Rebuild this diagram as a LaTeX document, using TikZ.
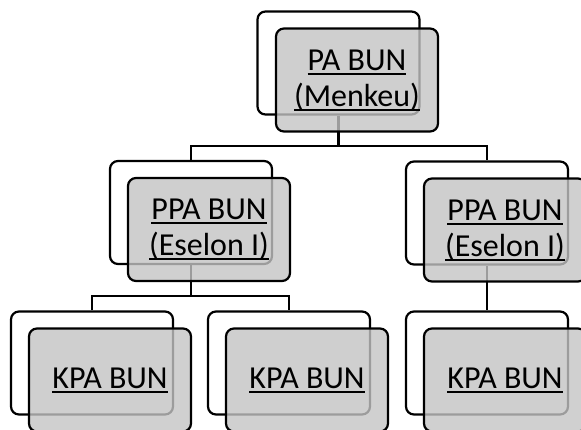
\documentclass[tikz,border=0pt]{standalone}
\usepackage{fontspec}
\setmainfont{Carlito}
\newcommand\ulx[1]{\setbox0\hbox{#1}\rlap{\rule[-4.5bp]{\wd0}{2bp}}\box0}
\begin{document}
\begin{tikzpicture}[x=1bp,y=-1bp,
  backbox/.style={draw=black, line width=2.2bp, rounded corners=8bp, fill=white,
    minimum width=162bp, minimum height=103bp, inner sep=0pt},
  frontbox/.style={draw=black, line width=2.2bp, rounded corners=8bp,
    fill={rgb,255:red,196;green,196;blue,196}, fill opacity=0.8, text opacity=1,
    minimum width=162bp, minimum height=103bp, inner sep=0pt, align=center,
    font=\fontsize{32bp}{36bp}\selectfont},
  conn/.style={draw=black, line width=2.2bp}]
\useasboundingbox (0,0) rectangle (581,429);
\clip (0,0) rectangle (581,429);
% back boxes
\node[backbox] (b0) at (338.5,63) {};
\node[backbox] (b1) at (191,212.5) {};
\node[backbox] (b2) at (487,213) {};
\node[backbox] (b3) at (92,363) {};
\node[backbox] (b4) at (289,363) {};
\node[backbox] (b5) at (487,363) {};
% connectors
\coordinate (j0) at (338.5,146);
\coordinate (j1) at (191,296);
\draw[conn] (b0.south) -- (j0);
\draw[conn] (b1.north) |- (j0) -| (b2.north);
\draw[conn] (b1.south) -- (j1);
\draw[conn] (b3.north) |- (j1) -| (b4.north);
\draw[conn] (b2.south) -- (b5.north);
% front boxes
\node[frontbox] (f0) at (357,80) {\ulx{PA BUN}\\\ulx{(Menkeu)}};
\node[frontbox] (f1) at (209,229.5) {\ulx{PPA BUN}\\\ulx{(Eselon I)}};
\node[frontbox] (f2) at (505,230) {\ulx{PPA BUN}\\\ulx{(Eselon I)}};
\node[frontbox] (f3) at (110,380) {\ulx{KPA BUN}};
\node[frontbox] (f4) at (307,380) {\ulx{KPA BUN}};
\node[frontbox] (f5) at (505,380) {\ulx{KPA BUN}};
\end{tikzpicture}
\end{document}
